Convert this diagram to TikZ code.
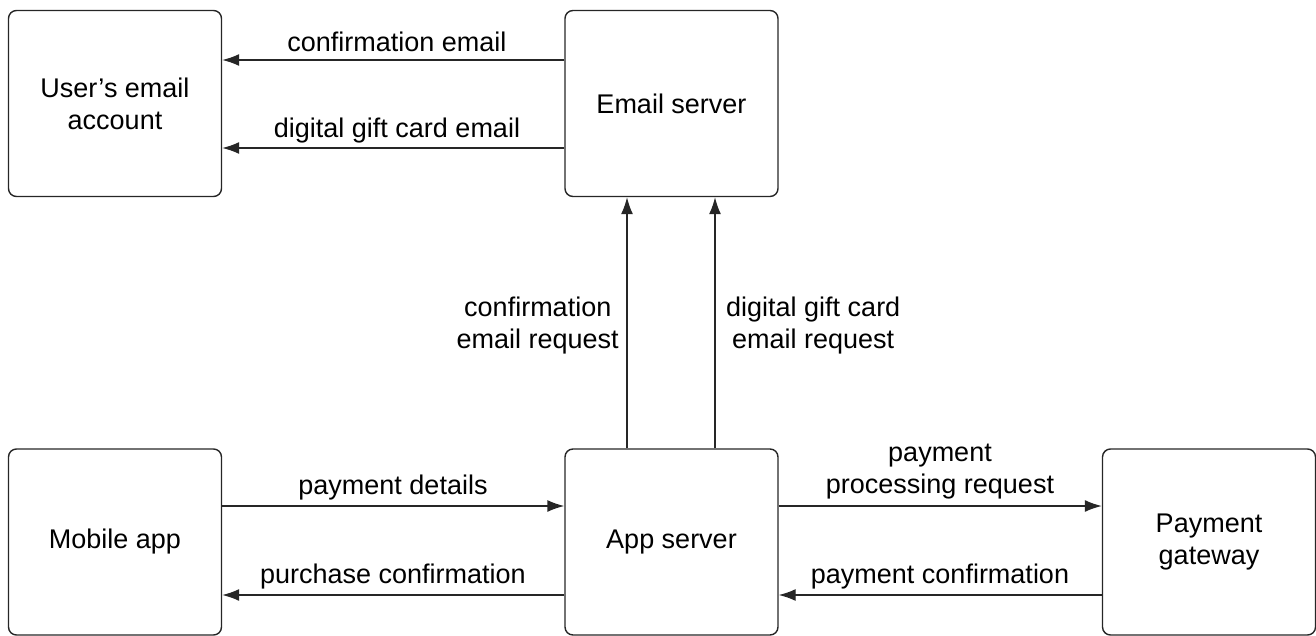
\documentclass[tikz,border=0pt]{standalone}
\usepackage{fontspec}
\setmainfont{Liberation Sans}
\usetikzlibrary{arrows.meta}
\begin{document}
\begin{tikzpicture}[x=1pt,y=-1pt,
  box/.style={draw=black!85,line width=1.4pt,rounded corners=8pt,minimum width=213pt,minimum height=186pt,inner sep=0pt,align=center,font=\fontsize{27}{32}\selectfont},
  arr/.style={draw=black!85,line width=1.4pt,-{Latex[length=17pt,width=12pt]}},
  lbl/.style={font=\fontsize{27}{32}\selectfont,align=center,inner sep=0pt}]
\useasboundingbox (0,0) rectangle (1316,636);
\node[box] (ue) at (115,103.5) {User’s email\\account};
\node[box] (es) at (671.5,103.5) {Email server};
\node[box] (ma) at (115,542) {Mobile app};
\node[box] (as) at (671.5,542) {App server};
\node[box] (pg) at (1209,542) {Payment\\gateway};
% top horizontal
\draw[arr] ([yshift=43.5pt]es.west) -- ([yshift=43.5pt]ue.east);
\draw[arr] ([yshift=-44.5pt]es.west) -- ([yshift=-44.5pt]ue.east);
\node[lbl] (l1) at (397,42) {confirmation email};
\node[lbl] (l2) at (397,131) {digital gift card email};
% vertical
\draw[arr] ([xshift=-44.5pt]as.north) -- ([xshift=-44.5pt]es.south);
\draw[arr] ([xshift=43.5pt]as.north) -- ([xshift=43.5pt]es.south);
\node[lbl,anchor=east] (l3) at (619,326) {confirmation\\email request};
\node[lbl,anchor=west] (l4) at (726,326) {digital gift card\\email request};
% bottom left
\draw[arr] ([yshift=36pt]ma.east) -- ([yshift=36pt]as.west);
\draw[arr] ([yshift=-53pt]as.west) -- ([yshift=-53pt]ma.east);
\node[lbl] (l5) at (393,488) {payment details};
\node[lbl] (l6) at (393,577) {purchase confirmation};
% bottom right
\draw[arr] ([yshift=36pt]as.east) -- ([yshift=36pt]pg.west);
\draw[arr] ([yshift=-53pt]pg.west) -- ([yshift=-53pt]as.east);
\node[lbl] (l7) at (940,472) {payment\\processing request};
\node[lbl] (l8) at (940,577) {payment confirmation};
\end{tikzpicture}
\end{document}
